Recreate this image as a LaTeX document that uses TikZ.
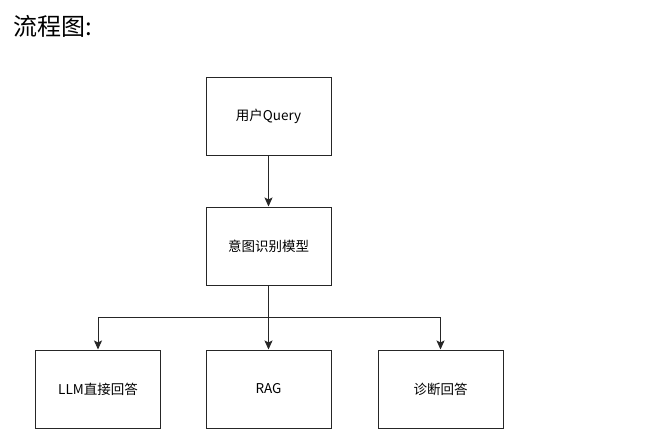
\documentclass[tikz,border=0pt]{standalone}
\usepackage{fontspec}
\setmainfont{Noto Sans CJK SC}
\usetikzlibrary{arrows.meta}
\begin{document}
\begin{tikzpicture}[x=1pt,y=-1pt,
  box/.style={draw=black!85,line width=1pt,minimum width=125pt,minimum height=78pt,inner sep=0pt,font=\fontsize{13.5}{15}\selectfont},
  conn/.style={draw=black!85,line width=1pt,-{Stealth[length=9pt,width=8pt,inset=2pt]}}]
\useasboundingbox[fill=white] (0,0) rectangle (653,442);
\node[anchor=west,inner sep=0pt,font=\fontsize{24}{28}\selectfont] (title) at (13,26) {流程图:};
\node[box] (q) at (268.5,116) {用户Query};
\node[box] (m) at (268.5,246) {意图识别模型};
\node[box] (l) at (98,389) {LLM直接回答};
\node[box] (r) at (268.5,389) {RAG};
\node[box] (d) at (440.5,389) {诊断回答};
\coordinate (j) at (268.5,317);
\draw[conn] (q) -- (m);
\draw[conn] (m) -- (r);
\draw[conn] (m.south) -- (j) -| (l.north);
\draw[conn] (j) -| (d.north);
\end{tikzpicture}
\end{document}
